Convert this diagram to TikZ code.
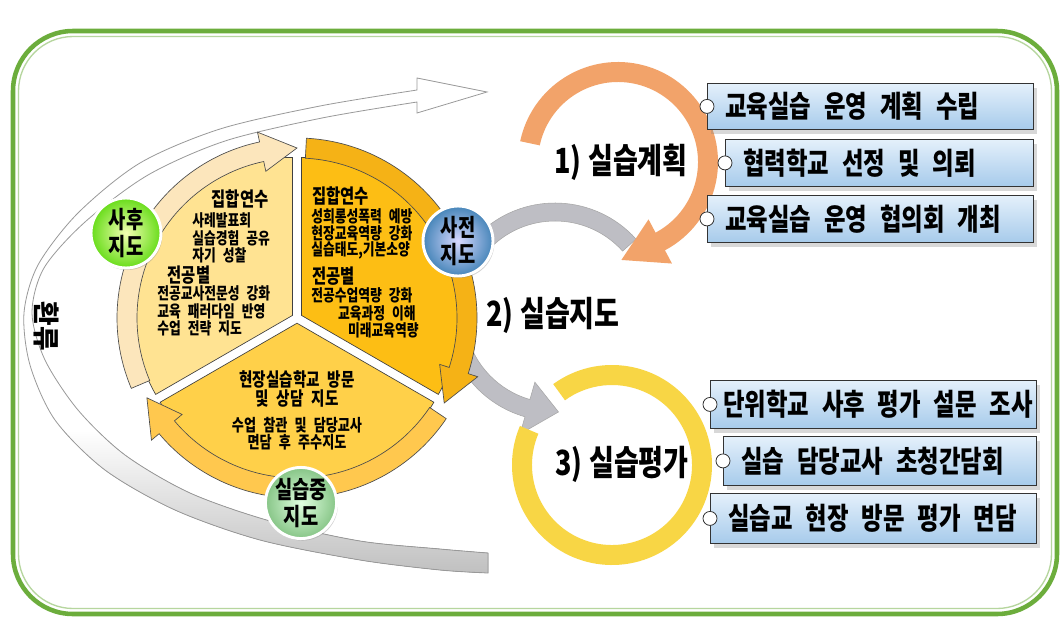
\documentclass[tikz,border=0pt]{standalone}
\usepackage{fontspec}
\setmainfont{Noto Sans CJK KR}[FakeStretch=0.78,WordSpace=2.4]
\newfontfamily\krplain{Noto Sans CJK KR}
\usetikzlibrary{shadows}
\definecolor{grn}{HTML}{6CAD3C}
\definecolor{secL}{HTML}{FFE392}
\definecolor{secR}{HTML}{FDBE14}
\definecolor{secB}{HTML}{FFD049}
\definecolor{ringL}{HTML}{FCE6BC}
\definecolor{ringR}{HTML}{F5B216}
\definecolor{ringB}{HTML}{FFC84E}
\definecolor{orng}{HTML}{F2A36A}
\definecolor{yell}{HTML}{F8D645}
\definecolor{gry}{HTML}{BEBEC4}
\definecolor{boxtop}{HTML}{E4F0FB}
\definecolor{boxbot}{HTML}{A7CBEB}
% style, start, base, tip, rin, rout, tip radius, head extension
\newcommand\ringarrow[8]{%
  \path[#1] (#2:#6) arc[start angle=#2, end angle=#3, radius=#6] -- (#3:{#6+#8}) -- (#4:#7) -- (#3:{#5-#8}) -- (#3:#5) arc[start angle=#3, end angle=#2, radius=#5] -- cycle;}
\newcommand\bxt[2]{\makebox[#1][l]{\hspace{13.5pt}#2}}
\def\ribbonpath{(417,113) -- (487,92) -- (417,78) -- (417,90) -- plot[smooth] coordinates {(417,90) (320,106) (220,129) (140,163) (78,213) (38,265) (24,313) (30,365) (55,420) (105,470) (175,510) (260,540) (360,560) (440,570) (488,573)} -- (488,553) -- plot[smooth] coordinates {(488,553) (440,549) (360,541) (270,521) (190,493) (125,455) (78,410) (45,360) (32,313) (44,268) (85,222) (148,175) (225,141) (322,118) (417,102)} -- cycle}
\begin{document}
\begin{tikzpicture}[x=0.75pt,y=-0.75pt,
  sec/.style={draw=black!75, line width=0.5pt},
  ringst/.style={draw=black!70, line width=0.5pt},
  stxt/.style={inner sep=0pt, font=\fontsize{12.3}{14}\selectfont\bfseries},
  htxt/.style={inner sep=0pt, font=\fontsize{14.8}{16}\selectfont\bfseries},
  bhtxt/.style={inner sep=0pt, font=\fontsize{14}{16}\selectfont\bfseries},
  bstxt/.style={inner sep=0pt, font=\fontsize{12.6}{14}\selectfont\bfseries},
  big/.style={inner sep=0pt, font=\fontsize{26}{30}\selectfont\bfseries},
  circlab/.style={circle, inner sep=0pt, minimum size=52.5pt, draw=white, line width=2.2pt,
    drop shadow={shadow xshift=1pt, shadow yshift=-1.5pt, opacity=0.35},
    align=center, font=\fontsize{18}{20}\selectfont\bfseries},
  box/.style={anchor=north west, inner sep=0pt, draw=black!80, line width=0.6pt,
    top color=boxtop, bottom color=boxbot,
    drop shadow={shadow xshift=3pt, shadow yshift=-3.5pt, opacity=0.3},
    font=\fontsize{22.5}{25}\selectfont\bfseries},
  knob/.style={circle, draw=black!80, fill=white, line width=0.6pt, minimum size=10.5pt, inner sep=0pt},
  grayarc/.style={fill=gry, draw=gray!70, line width=0.4pt}
]
\useasboundingbox (0,0) rectangle (1060,618);
\fill[white] (0,0) rectangle (1060,618);

% frame
\draw[grn, line width=3.4pt, rounded corners=45pt] (13,31) rectangle (1057,614);
\draw[grn!50, line width=1pt, rounded corners=41pt] (18.5,36.5) rectangle (1051.5,608.5);

% feedback ribbon
\fill[white] \ribbonpath;
\begin{scope}
  \clip \ribbonpath;
  \fill[top color=white, bottom color=gray!55] (0,430) rectangle (500,590);
\end{scope}
\draw[gray!80, line width=0.6pt] \ribbonpath;
\node[rotate=-90, inner sep=0pt, font=\krplain\fontsize{20}{22}\selectfont\bfseries] (fb) at (47,326) {환류};

% gray arcs around 2)
\coordinate (G) at (555,312);
\begin{scope}[shift={(G)}]
  \path[grayarc] (-132:109) arc[start angle=-132, end angle=-42, radius=109] -- (-42:91) arc[start angle=-42, end angle=-132, radius=91] -- cycle;
  \ringarrow{grayarc}{166}{106}{88}{91}{109}{100}{18}
\end{scope}

% pie
\coordinate (C) at (297,318);
\begin{scope}[shift={(C)}]
  \begin{scope}[shift={(-30:5.2)}]
    \draw[sec, fill=secR] (0,0) -- (-90:158) arc[start angle=-90, end angle=30, radius=158] -- cycle;
  \end{scope}
  \begin{scope}[shift={(90:5.2)}]
    \draw[sec, fill=secB] (0,0) -- (30:158) arc[start angle=30, end angle=150, radius=158] -- cycle;
  \end{scope}
  \begin{scope}[shift={(210:5.2)}]
    \draw[sec, fill=secL] (0,0) -- (150:158) arc[start angle=150, end angle=270, radius=158] -- cycle;
  \end{scope}
  \ringarrow{ringst, fill=ringR}{-87}{18}{30}{160}{180}{170}{10}
  \ringarrow{ringst, fill=ringB}{34}{140}{152}{160}{180}{170}{10}
  \ringarrow{ringst, fill=ringL}{157}{258}{270}{160}{180}{170}{10}
\end{scope}

% left sector text
\node[htxt] (l0) at (240,199) {집합연수};
\node[stxt, anchor=west] (l1) at (192,220) {사례발표회};
\node[stxt, anchor=west] (l2) at (192,238.5) {실습경험 공유};
\node[stxt, anchor=west] (l3) at (192,255) {자기 성찰};
\node[htxt] (l4) at (189,275) {전공별};
\node[stxt, anchor=west] (l5) at (157,293.5) {전공교사전문성 강화};
\node[stxt, anchor=west] (l6) at (157,311.5) {교육 패러다임 반영};
\node[stxt, anchor=west] (l7) at (157,328.5) {수업 전략 지도};
% right sector text
\node[htxt, anchor=west] (r0) at (312,196.5) {집합연수};
\node[stxt, anchor=west] (r1) at (311,216.5) {성희롱성폭력 예방};
\node[stxt, anchor=west] (r2) at (311,233.5) {현장교육역량 강화};
\node[stxt, anchor=west] (r3) at (311,250) {실습태도,기본소양};
\node[htxt, anchor=west] (r4) at (312,276.5) {전공별};
\node[stxt, anchor=west] (r5) at (311,295) {전공수업역량 강화};
\node[stxt, anchor=east] (r6) at (416,313.5) {교육과정 이해};
\node[stxt, anchor=east] (r7) at (419,330) {미래교육역량};
% bottom sector text
\node[bhtxt] (m0) at (297,379.5) {현장실습학교 방문};
\node[bhtxt] (m1) at (297,398.5) {및 상담 지도};
\node[bstxt] (m2) at (297,425) {수업 참관 및 담당교사};
\node[bstxt] (m3) at (297,442.5) {면담 후 주수지도};

% stage circles
\node[circlab, inner color=green!15!yellow!30, outer color=green!60!yellow!85!black!90] (c1) at (126,233) {사후\\지도};
\node[circlab, inner color=blue!15, outer color=blue!45!cyan!45!gray] (c2) at (458,241) {사전\\지도};
\node[circlab, inner color=green!12, outer color=green!35!gray!70] (c3) at (301,503) {실습중\\지도};

% orange ring 1)
\coordinate (O1) at (618,162);
\begin{scope}[shift={(O1)}]
  \ringarrow{fill=orng}{192}{422}{448}{80}{100}{98}{15}
\end{scope}
% yellow ring 3)
\coordinate (O3) at (612,465);
\begin{scope}[shift={(O3)}]
  \path[fill=yell] (234:100) arc[start angle=234, end angle=563, radius=100] -- (563:80) arc[start angle=563, end angle=234, radius=80] -- cycle;
\end{scope}

% big labels
\node[big] (p1) at (621,162) {1)\hspace{5pt}실습계획};
\node[big] (p2) at (553,315) {2)\hspace{5pt}실습지도};
\node[big] (p3) at (622,464) {3)\hspace{5pt}실습평가};

% boxes
\node[box, minimum height=34.5pt] (b1) at (707,83) {\bxt{244.5pt}{교육실습 운영 계획 수립}};
\node[box, minimum height=35.25pt] (b2) at (725,139) {\bxt{231pt}{협력학교 선정 및 의뢰}};
\node[box, minimum height=35.25pt] (b3) at (707,195) {\bxt{244.5pt}{교육실습 운영 협의회 개최}};
\node[box, minimum height=36pt] (b4) at (710,380) {\bxt{244.5pt}{\hspace{-4pt}단위학교 사후 평가 설문 조사}};
\node[box, minimum height=36.75pt] (b5) at (723,436) {\bxt{234.75pt}{실습 담당교사 초청간담회}};
\node[box, minimum height=37.5pt] (b6) at (710,493) {\bxt{244.5pt}{실습교 현장 방문 평가 면담}};
\foreach \b in {1,...,6} \node[knob] (k\b) at (b\b.west) {};
\end{tikzpicture}
\end{document}
